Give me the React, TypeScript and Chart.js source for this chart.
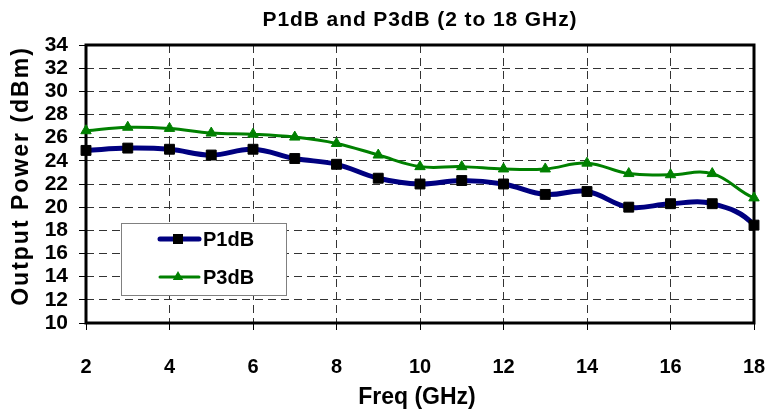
import React, { useEffect, useRef } from 'react';
import { Chart, registerables } from 'chart.js';

Chart.register(...registerables);

// Data
const freqGHz = [2, 3, 4, 5, 6, 7, 8, 9, 10, 11, 12, 13, 14, 15, 16, 17, 18, 19];
const p1dB = [24.9, 25.1, 25.0, 24.5, 25.0, 24.2, 23.7, 22.5, 22.0, 22.3, 22.0, 21.1, 21.35, 20.0, 20.3, 20.3, 18.45, 12.5];
const p3dB = [26.6, 26.9, 26.8, 26.4, 26.3, 26.05, 25.5, 24.5, 23.5, 23.5, 23.3, 23.3, 23.8, 22.9, 22.8, 22.9, 20.8, 20.0];

const titleText = 'P1dB and P3dB (2 to 18 GHz)';
const xTitle = 'Freq (GHz)';
const yTitle = 'Output Power (dBm)';
const seriesNames = ['P1dB', 'P3dB'];

const xMin = 2, xMax = 18, xStep = 2;
const yMin = 10, yMax = 34, yStep = 2;

const FONT = '"Liberation Sans", Arial, sans-serif';
const NAVY = '#000080';
const GREEN = '#008000';

const decorPlugin = {
  id: 'decor',
  beforeDatasetsDraw(chart: any) {
    const { ctx, chartArea: a } = chart;
    ctx.save();
    ctx.strokeStyle = '#000';
    ctx.lineWidth = 3;
    ctx.strokeRect(a.left, a.top, a.right - a.left, a.bottom - a.top);
    ctx.restore();
  },
  afterDraw(chart: any) {
    const { ctx, chartArea: a } = chart;
    const cx = (a.left + a.right) / 2;
    ctx.save();
    ctx.fillStyle = '#000';
    // Title
    ctx.font = `bold 21px ${FONT}`;
    (ctx as any).letterSpacing = '0.9px';
    ctx.textAlign = 'center';
    ctx.textBaseline = 'middle';
    ctx.fillText(titleText, cx, 20);
    // X title
    ctx.font = `bold 23px ${FONT}`;
    (ctx as any).letterSpacing = '0px';
    ctx.fillText(xTitle, cx - 3, 398);
    // Y title
    ctx.save();
    ctx.translate(22, 176);
    ctx.rotate(-Math.PI / 2);
    ctx.font = `bold 23px ${FONT}`;
    (ctx as any).letterSpacing = '2px';
    ctx.fillText(yTitle, 0, 0);
    ctx.restore();
    (ctx as any).letterSpacing = '0px';

    // Legend
    const bx = a.left + 35, by = a.top + 178, bw = 165, bh = 72;
    ctx.fillStyle = '#fff';
    ctx.fillRect(bx, by, bw, bh);
    ctx.strokeStyle = '#808080';
    ctx.lineWidth = 1;
    ctx.strokeRect(bx + 0.5, by + 0.5, bw, bh);

    const rows = [by + 16, by + 54];
    const lx0 = bx + 39, lx1 = bx + 78, mx = bx + 57;
    // P1dB
    ctx.strokeStyle = NAVY;
    ctx.lineWidth = 5;
    ctx.lineCap = 'round';
    ctx.beginPath();
    ctx.moveTo(lx0, rows[0]);
    ctx.lineTo(lx1, rows[0]);
    ctx.stroke();
    ctx.fillStyle = '#000';
    ctx.fillRect(mx - 5, rows[0] - 5, 10, 10);
    // P3dB
    ctx.strokeStyle = GREEN;
    ctx.lineWidth = 3;
    ctx.beginPath();
    ctx.moveTo(lx0, rows[1]);
    ctx.lineTo(lx1, rows[1]);
    ctx.stroke();
    ctx.fillStyle = GREEN;
    const r = 6;
    ctx.beginPath();
    ctx.moveTo(mx, rows[1] - r);
    ctx.lineTo(mx + r * 0.866, rows[1] + r / 2);
    ctx.lineTo(mx - r * 0.866, rows[1] + r / 2);
    ctx.closePath();
    ctx.fill();

    ctx.fillStyle = '#000';
    ctx.font = `bold 20px ${FONT}`;
    ctx.textAlign = 'left';
    ctx.textBaseline = 'middle';
    ctx.fillText(seriesNames[0], bx + 82, rows[0] + 1);
    ctx.fillText(seriesNames[1], bx + 82, rows[1] + 1);
    ctx.restore();
  },
};

export default function App() {
  const ref = useRef<HTMLCanvasElement | null>(null);

  useEffect(() => {
    if (!ref.current) return;
    const toPts = (vals: number[]) => freqGHz.map((x, i) => ({ x, y: vals[i] }));
    const chart = new Chart(ref.current, {
      type: 'line',
      data: {
        datasets: [
          {
            label: seriesNames[0],
            data: toPts(p1dB),
            borderColor: NAVY,
            borderWidth: 5,
            tension: 0.4,
            pointStyle: 'rect',
            pointRadius: 7,
            pointBackgroundColor: '#000',
            pointBorderColor: '#000',
            pointBorderWidth: 1,
            clip: { left: 10, top: 10, right: 6, bottom: 10 } as any,
          },
          {
            label: seriesNames[1],
            data: toPts(p3dB),
            borderColor: GREEN,
            borderWidth: 3,
            tension: 0.4,
            pointStyle: 'triangle',
            pointRadius: 6,
            pointBackgroundColor: GREEN,
            pointBorderColor: GREEN,
            pointBorderWidth: 1,
            clip: { left: 10, top: 10, right: 6, bottom: 10 } as any,
          },
        ],
      },
      options: {
        responsive: false,
        animation: false,
        devicePixelRatio: 1,
        events: [],
        layout: { padding: { left: 0, top: 45, right: 14, bottom: 0 } },
        plugins: {
          legend: { display: false },
          title: { display: false },
          tooltip: { enabled: false },
        },
        scales: {
          x: {
            type: 'linear',
            min: xMin,
            max: xMax,
            ticks: {
              stepSize: xStep,
              color: '#000',
              font: { family: FONT, size: 20, weight: 'bold' },
              padding: 25,
              maxRotation: 0,
              autoSkip: false,
            },
            grid: {
              color: (c: any) =>
                c.tick && (c.tick.value === xMin || c.tick.value === xMax) ? 'rgba(0,0,0,0)' : '#333',
              lineWidth: 1,
              drawTicks: true,
              tickLength: 7,
              tickColor: '#000',
              tickWidth: 1,
            },
            border: { display: false, dash: [8, 5] },
            afterFit: (s: any) => {
              s.height = 89;
              s.paddingLeft = 0;
              s.paddingRight = 0;
            },
          },
          y: {
            type: 'linear',
            min: yMin,
            max: yMax,
            ticks: {
              stepSize: yStep,
              color: '#000',
              font: { family: FONT, size: 21, weight: 'bold' },
              padding: 11,
              autoSkip: false,
            },
            grid: {
              color: (c: any) =>
                c.tick && (c.tick.value === yMin || c.tick.value === yMax) ? 'rgba(0,0,0,0)' : '#333',
              lineWidth: 1,
              drawTicks: true,
              tickLength: 7,
              tickColor: '#000',
              tickWidth: 1,
            },
            border: { display: false, dash: [8, 5] },
            afterFit: (s: any) => {
              s.width = 86;
              s.paddingTop = 0;
              s.paddingBottom = 0;
            },
          },
        },
      },
      plugins: [decorPlugin],
    });
    return () => chart.destroy();
  }, []);

  return (
    <div style={{ position: 'fixed', left: 0, top: 0, width: 768, height: 412, background: '#fff' }}>
      <canvas ref={ref} width={768} height={412} style={{ display: 'block', width: 768, height: 412 }} />
    </div>
  );
}
